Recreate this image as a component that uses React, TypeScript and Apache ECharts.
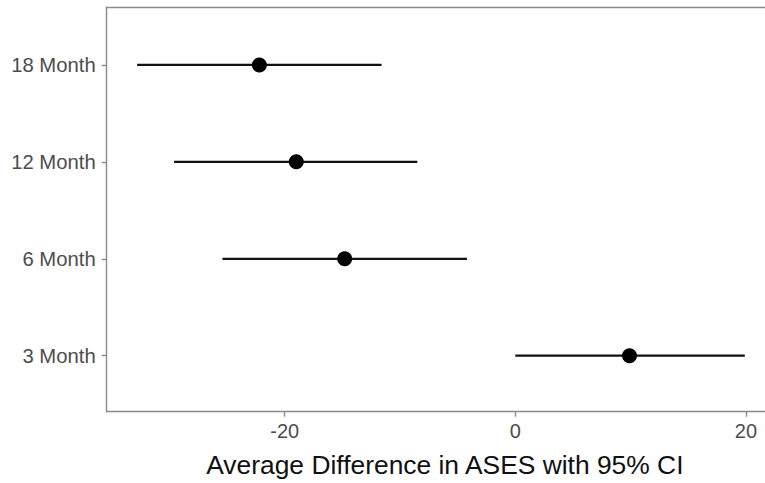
import React, { useEffect, useRef } from "react";
import * as echarts from "echarts";

const categories = ["3 Month", "6 Month", "12 Month", "18 Month"];
const estimates = [9.9, -14.8, -19.0, -22.2];
const lower = [0.0, -25.4, -29.6, -32.8];
const upper = [19.9, -4.2, -8.5, -11.6];
const xTicks = [-20, 0, 20];
const xTitle = "Average Difference in ASES with 95% CI";

export default function App() {
  const ref = useRef<HTMLDivElement>(null);
  useEffect(() => {
    if (!ref.current) return;
    const chart = echarts.init(ref.current, undefined, { renderer: "svg" });
    const font = "'Liberation Sans', Arial, sans-serif";
    const yPos = categories.map((_, i) => i + 1);
    const axisLineStyle = { color: "#8a8a8a", width: 1.4 };
    const xMin = -35.44;
    const xMax = 21.65;
    chart.setOption({
      animation: false,
      backgroundColor: "#ffffff",
      grid: { left: 106.7, top: 7.3, right: 0, height: 404.4, containLabel: false },
      xAxis: [
        {
          type: "value",
          min: xMin,
          max: xMax,
          position: "bottom",
          axisLine: { show: true, lineStyle: axisLineStyle },
          axisTick: { show: true, length: 5, lineStyle: axisLineStyle, customValues: xTicks },
          axisLabel: {
            show: true,
            customValues: xTicks,
            color: "#4d4d4d",
            fontSize: 20,
            fontFamily: font,
            margin: 9,
          },
          splitLine: { show: false },
          name: xTitle,
          nameLocation: "middle",
          nameGap: 40,
          nameTextStyle: {
            color: "#111111",
            fontSize: 26.4,
            fontFamily: font,
            padding: [0, 0, 0, 18],
          },
        },
        {
          type: "value",
          min: xMin,
          max: xMax,
          position: "top",
          axisLine: { show: true, onZero: false, lineStyle: axisLineStyle },
          axisTick: { show: false },
          axisLabel: { show: false },
          splitLine: { show: false },
        },
      ],
      yAxis: {
        type: "value",
        min: 0.422,
        max: 4.595,
        axisLine: { show: true, onZero: false, lineStyle: axisLineStyle },
        axisTick: { show: true, length: 5, lineStyle: axisLineStyle, customValues: yPos },
        axisLabel: {
          show: true,
          customValues: yPos,
          formatter: (v: number) => categories[Math.round(v) - 1] ?? "",
          color: "#4d4d4d",
          fontSize: 20.3,
          fontFamily: font,
          margin: 11,
        },
        splitLine: { show: false },
      },
      series: [
        {
          type: "custom",
          xAxisIndex: 0,
          data: categories.map((_, i) => [lower[i], upper[i], i + 1]),
          renderItem: (params: any, api: any) => {
            const p1 = api.coord([api.value(0), api.value(2)]);
            const p2 = api.coord([api.value(1), api.value(2)]);
            return {
              type: "line",
              shape: { x1: p1[0], y1: p1[1], x2: p2[0], y2: p2[1] },
              style: { stroke: "#111111", lineWidth: 2.2 },
            };
          },
          z: 2,
        },
        {
          type: "scatter",
          xAxisIndex: 0,
          symbol: "circle",
          symbolSize: 15,
          itemStyle: { color: "#000000", opacity: 1 },
          data: categories.map((_, i) => [estimates[i], i + 1]),
          z: 3,
        },
      ],
    });
    return () => chart.dispose();
  }, []);
  return (
    <div
      ref={ref}
      style={{ position: "fixed", left: 0, top: 0, width: 765, height: 483, background: "#fff" }}
    />
  );
}
